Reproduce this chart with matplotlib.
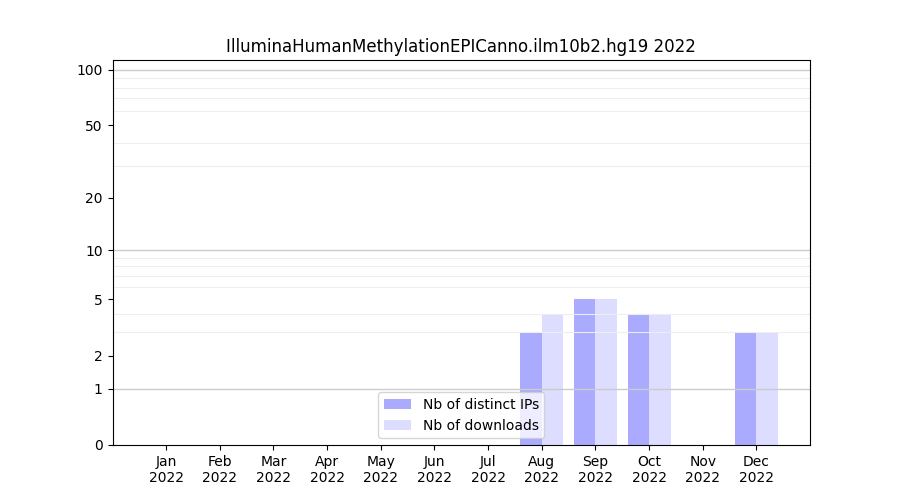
import numpy as np
import matplotlib.pyplot as plt
from matplotlib.ticker import FixedLocator, NullFormatter

months = ["Jan", "Feb", "Mar", "Apr", "May", "Jun", "Jul", "Aug", "Sep", "Oct", "Nov", "Dec"]
year = "2022"
ips = [0, 0, 0, 0, 0, 0, 0, 3, 5, 4, 0, 3]
downloads = [0, 0, 0, 0, 0, 0, 0, 4, 5, 4, 0, 3]
yticks = [0, 1, 2, 5, 10, 20, 50, 100]
minor = [2, 3, 4, 5, 6, 7, 8, 9, 20, 30, 40, 50, 60, 70, 80, 90]

x = np.arange(len(months))

fig, ax = plt.subplots(figsize=(9, 5), dpi=100)
ax.set_yscale('function', functions=(lambda v: np.log10(1 + np.maximum(v, 0)),
                                     lambda v: 10 ** v - 1))

ax.bar(x - 0.2, ips, width=0.4, color='#aaaaff', label="Nb of distinct IPs")
ax.bar(x + 0.2, downloads, width=0.4, color='#ddddff', label="Nb of downloads")

ax.set_axisbelow(False)
ax.yaxis.set_major_locator(FixedLocator(yticks))
ax.yaxis.set_major_formatter(plt.FixedFormatter([str(t) for t in yticks]))
ax.yaxis.set_minor_locator(FixedLocator(minor))
ax.yaxis.set_minor_formatter(NullFormatter())
ax.grid(True, which='minor', axis='y', color='#eeeeee', lw=0.8)
for d in [1, 10, 100]:
    ax.axhline(d, color='#cccccc', lw=1)

ax.set_ylim(0, 113)
ax.set_xlim(-1, 12)
ax.set_xticks(x)
ax.set_xticklabels([m + "\n" + year for m in months])
ax.set_title("IlluminaHumanMethylationEPICanno.ilm10b2.hg19 2022")
ax.legend(loc='lower center')
ax.tick_params(axis='y', which='minor', left=False)
for s in ax.spines.values():
    s.set_zorder(4)

plt.savefig("out.png")
